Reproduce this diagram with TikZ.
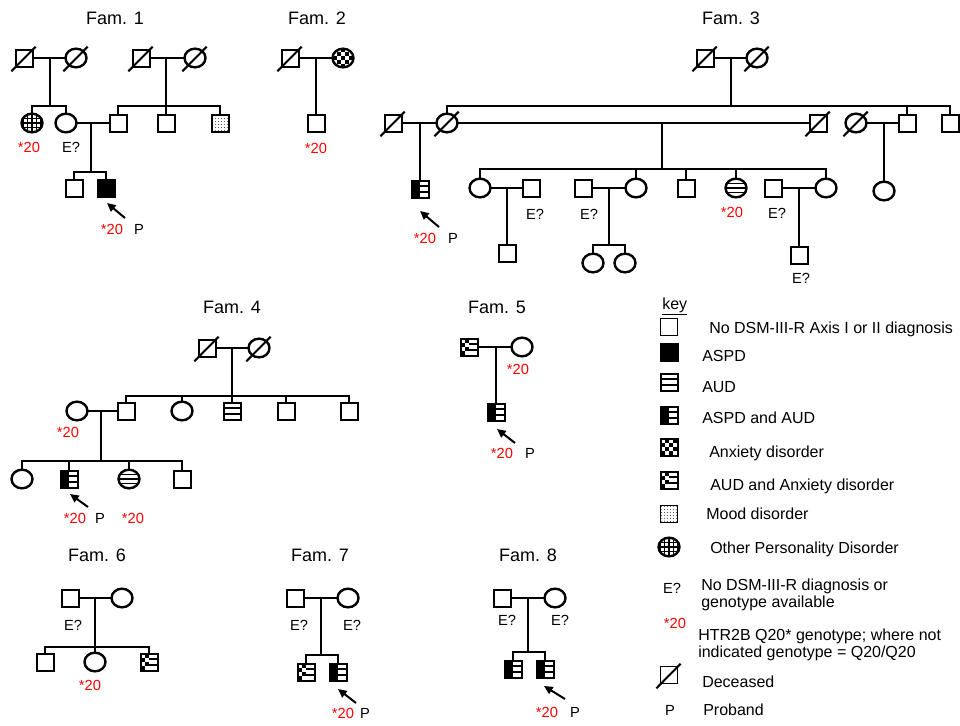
\documentclass[tikz,border=0pt]{standalone}
\usepackage{fontspec}
\setmainfont{Liberation Sans}
\usetikzlibrary{shapes.geometric,arrows.meta}
\tikzset{
 ln/.style={line width=1.7pt},
 pb/.style={draw, line width=1.5pt, inner sep=0pt, outer sep=0pt, fill=white},
 sq/.style={pb, rectangle, minimum width=12.75pt, minimum height=12.75pt},
 ci/.style={pb, line width=1.8pt, ellipse, minimum width=15.75pt, minimum height=14pt},
 lab/.style={font=\fontsize{11}{13}\selectfont, inner sep=0pt},
 rlab/.style={lab, text=red},
 ttl/.style={font=\fontsize{13.5}{16}\selectfont, inner sep=0pt},
 ktx/.style={font=\fontsize{12}{14}\selectfont, inner sep=0pt, anchor=base west},
 arr/.style={line width=1.5pt, -{Triangle[length=6.5pt,width=6pt]}},
 aspd/.style={fill=black},
 aud/.style={path picture={\coordinate (pp) at (path picture bounding box.center);
   \foreach \yy in {-2.2,2.2} \draw[black,line width=1.3pt] ([shift={(-9pt,\yy pt)}]pp) -- ++(18pt,0);}},
 audci/.style={path picture={\coordinate (pp) at (path picture bounding box.center);
   \foreach \yy in {-3.3,0,3.3} \draw[black,line width=1.3pt] ([shift={(-10pt,\yy pt)}]pp) -- ++(20pt,0);}},
 aspdaud/.style={path picture={\coordinate (pp) at (path picture bounding box.center);
   \fill[black] ([shift={(-9pt,-9pt)}]pp) rectangle ([shift={(0pt,9pt)}]pp);
   \foreach \yy in {-2.2,2.2} \draw[black,line width=1.3pt] ([shift={(0pt,\yy pt)}]pp) -- ++(9pt,0);}},
 anx/.style={path picture={\coordinate (pp) at (path picture bounding box.center);
   \foreach \i/\j in {0/0,0/2,1/1,1/3,2/0,2/2,3/1,3/3}
     \fill[black] ([shift={(-6.4pt+\i*3.2pt,-6.4pt+\j*3.2pt)}]pp) rectangle ++(3.2pt,3.2pt);}},
 anxci/.style={path picture={\coordinate (pp) at (path picture bounding box.center);
   \foreach \i/\j in {0/0,0/2,0/4,1/1,1/3,2/0,2/2,2/4,3/1,3/3,4/0,4/2,4/4}
     \fill[black] ([shift={(-8pt+\i*3.2pt,-8pt+\j*3.2pt)}]pp) rectangle ++(3.2pt,3.2pt);}},
 audanx/.style={path picture={\coordinate (pp) at (path picture bounding box.center);
   \foreach \i/\j in {0/0,0/2,1/1,1/3}
     \fill[black] ([shift={(-6.4pt+\i*3.2pt,-6.4pt+\j*3.2pt)}]pp) rectangle ++(3.2pt,3.2pt);
   \foreach \yy in {-2.2,2.2} \draw[black,line width=1.3pt] ([shift={(0pt,\yy pt)}]pp) -- ++(9pt,0);}},
 mood/.style={path picture={\coordinate (pp) at (path picture bounding box.center);
   \foreach \i in {0,...,5} \foreach \j in {0,...,5}
     \fill[black!75] ([shift={(-5.5pt+\i*2.2pt,-5.5pt+\j*2.2pt)}]pp) circle (0.38pt);}},
 opd/.style={path picture={\coordinate (pp) at (path picture bounding box.center);
   \foreach \v in {-6.6,-3.3,0,3.3,6.6} {\draw[black,line width=0.9pt] ([shift={(\v pt,-9pt)}]pp) -- ++(0,18pt);
     \draw[black,line width=0.9pt] ([shift={(-9pt,\v pt)}]pp) -- ++(18pt,0);}}},
}
\newcommand\mkdead[1]{\draw[line width=1.5pt] ([shift={(-9.5pt,-10pt)}]#1.center) -- ([shift={(8.75pt,8.5pt)}]#1.center);}
\begin{document}
\begin{tikzpicture}[x=0.75pt,y=-0.75pt]
\fill[white] (0,0) rectangle (960,725);
\useasboundingbox (0,0) rectangle (960,725);

% ---------------- Fam. 1
\node[ttl] (t1) at (115,18) {Fam. 1};
\node[sq] (f1a) at (24,58) {}; \mkdead{f1a}
\node[ci] (f1b) at (76,58) {}; \mkdead{f1b}
\node[sq] (f1c) at (141,58) {}; \mkdead{f1c}
\node[ci] (f1d) at (195,58) {}; \mkdead{f1d}
\node[ci,opd] (f1e) at (32,123) {};
\node[ci] (f1f) at (66,123) {};
\node[sq] (f1g) at (118,123) {};
\node[sq] (f1h) at (166,123) {};
\node[sq,mood] (f1i) at (220,123) {};
\node[sq] (f1j) at (74,188) {};
\node[sq,aspd] (f1k) at (106,188) {};
\coordinate (f1m1) at (50,58); \coordinate (f1s1) at (50,106);
\coordinate (f1m2) at (166,58); \coordinate (f1s2) at (166,106);
\coordinate (f1m3) at (91,123); \coordinate (f1s3) at (91,172);
\draw[ln] (f1a) -- (f1b);
\draw[ln] (f1m1) -- (f1s1);
\draw[ln] (f1e.north) -- (f1e.north |- f1s1) -- (f1f.north |- f1s1) -- (f1f.north);
\draw[ln] (f1c) -- (f1d);
\draw[ln] (f1m2) -- (f1s2);
\draw[ln] (f1g.north) -- (f1g.north |- f1s2) -- (f1i.north |- f1s2) -- (f1i.north);
\draw[ln] (f1h.north |- f1s2) -- (f1h.north);
\draw[ln] (f1f) -- (f1g);
\draw[ln] (f1m3) -- (f1s3);
\draw[ln] (f1j.north) -- (f1j.north |- f1s3) -- (f1k.north |- f1s3) -- (f1k.north);
\node[rlab] (f1l1) at (29,147) {*20};
\node[lab] (f1l2) at (71,147) {E?};
\coordinate (f1p0) at (125,218); \coordinate (f1p1) at (107,203);
\draw[arr] (f1p0) -- (f1p1);
\node[rlab] (f1l3) at (112,229) {*20};
\node[lab] (f1l4) at (139,229) {P};

% ---------------- Fam. 2
\node[ttl] (t2) at (317,18) {Fam. 2};
\node[sq] (f2a) at (290,58) {}; \mkdead{f2a}
\node[ci,anxci] (f2b) at (343,58) {};
\node[sq] (f2c) at (316,123) {};
\coordinate (f2m) at (316,58);
\draw[ln] (f2a) -- (f2b);
\draw[ln] (f2m) -- (f2c);
\node[rlab] (f2l1) at (316,148) {*20};

% ---------------- Fam. 3
\node[ttl] (t3) at (731,18) {Fam. 3};
\node[sq] (f3a) at (705,58) {}; \mkdead{f3a}
\node[ci] (f3b) at (757,58) {}; \mkdead{f3b}
\coordinate (f3m1) at (731,58); \coordinate (f3s1) at (731,106);
\node[ci] (f3c) at (447,123) {}; \mkdead{f3c}
\node[sq] (f3d) at (907,123) {};
\node[sq] (f3e) at (950,123) {};
\node[sq] (f3f) at (393,123) {}; \mkdead{f3f}
\node[sq,aspdaud] (f3g) at (420,189) {};
\node[sq] (f3h) at (818,123) {}; \mkdead{f3h}
\node[ci] (f3i) at (856,123) {}; \mkdead{f3i}
\node[ci] (f3j) at (884,191) {};
\draw[ln] (f3a) -- (f3b);
\draw[ln] (f3m1) -- (f3s1);
\draw[ln] (f3c.north) -- (f3c.north |- f3s1) -- (f3e.north |- f3s1) -- (f3e.north);
\draw[ln] (f3d.north |- f3s1) -- (f3d.north);
\draw[ln] (f3f) -- (f3c);
\coordinate (f3m2) at (420,123);
\draw[ln] (f3m2) -- (f3g);
\draw[ln] (f3c) -- (f3h);
\coordinate (f3m3) at (662,123); \coordinate (f3s3) at (662,169);
\draw[ln] (f3m3) -- (f3s3);
\draw[ln] (f3i) -- (f3d);
\coordinate (f3m4) at (884,123);
\draw[ln] (f3m4) -- (f3j);
\node[ci] (f3k) at (480,188) {};
\node[ci] (f3l) at (636,188) {};
\node[sq] (f3n) at (686,188) {};
\node[ci,audci] (f3o) at (736,188) {};
\node[ci] (f3q) at (826,188) {};
\draw[ln] (f3k.north) -- (f3k.north |- f3s3) -- (f3q.north |- f3s3) -- (f3q.north);
\foreach \c in {f3l,f3n,f3o} \draw[ln] (\c.north |- f3s3) -- (\c.north);
\node[sq] (f3p) at (531,188) {};
\draw[ln] (f3k) -- (f3p);
\coordinate (f3m5) at (507,188);
\node[sq] (f3r) at (507,253) {};
\draw[ln] (f3m5) -- (f3r);
\node[sq] (f3t) at (583,188) {};
\draw[ln] (f3t) -- (f3l);
\coordinate (f3m6) at (609,188); \coordinate (f3s6) at (609,245);
\node[ci] (f3u) at (593,263) {};
\node[ci] (f3v) at (625,263) {};
\draw[ln] (f3m6) -- (f3s6);
\draw[ln] (f3u.north) -- (f3u.north |- f3s6) -- (f3v.north |- f3s6) -- (f3v.north);
\node[sq] (f3w) at (773,188) {};
\draw[ln] (f3w) -- (f3q);
\coordinate (f3m7) at (799,188);
\node[sq] (f3x) at (799,255) {};
\draw[ln] (f3m7) -- (f3x);
\node[lab] (f3l1) at (535,214) {E?};
\node[lab] (f3l2) at (589,214) {E?};
\node[rlab] (f3l3) at (732,212) {*20};
\node[lab] (f3l4) at (777,213) {E?};
\node[lab] (f3l5) at (801,278) {E?};
\coordinate (f3p0) at (439,227); \coordinate (f3p1) at (420,211);
\draw[arr] (f3p0) -- (f3p1);
\node[rlab] (f3l6) at (425,238) {*20};
\node[lab] (f3l7) at (453,238) {P};

% ---------------- Fam. 4
\node[ttl] (t4) at (232,307) {Fam. 4};
\node[sq] (f4a) at (207,348) {}; \mkdead{f4a}
\node[ci] (f4b) at (259,348) {}; \mkdead{f4b}
\coordinate (f4m1) at (232,348); \coordinate (f4s1) at (232,396);
\node[sq] (f4c) at (126,411) {};
\node[ci] (f4d) at (182,411) {};
\node[sq,aud] (f4e) at (232,411) {};
\node[sq] (f4f) at (286,411) {};
\node[sq] (f4g) at (349,411) {};
\node[ci] (f4h) at (77,411) {};
\draw[ln] (f4a) -- (f4b);
\draw[ln] (f4m1) -- (f4s1);
\draw[ln] (f4c.north) -- (f4c.north |- f4s1) -- (f4g.north |- f4s1) -- (f4g.north);
\foreach \c in {f4d,f4e,f4f} \draw[ln] (\c.north |- f4s1) -- (\c.north);
\draw[ln] (f4h) -- (f4c);
\coordinate (f4m2) at (101,411); \coordinate (f4s2) at (101,461);
\draw[ln] (f4m2) -- (f4s2);
\node[ci] (f4i) at (22,479) {};
\node[sq,aspdaud] (f4j) at (69,479) {};
\node[ci,audci] (f4k) at (129,479) {};
\node[sq] (f4l) at (182,479) {};
\draw[ln] (f4i.north) -- (f4i.north |- f4s2) -- (f4l.north |- f4s2) -- (f4l.north);
\foreach \c in {f4j,f4k} \draw[ln] (\c.north |- f4s2) -- (\c.north);
\node[rlab] (f4l1) at (68,432) {*20};
\coordinate (f4p0) at (88,507); \coordinate (f4p1) at (70,494);
\draw[arr] (f4p0) -- (f4p1);
\node[rlab] (f4l2) at (75,518) {*20};
\node[lab] (f4l3) at (100,518) {P};
\node[rlab] (f4l4) at (133,518) {*20};

% ---------------- Fam. 5
\node[ttl] (t5) at (497,307) {Fam. 5};
\node[sq,audanx] (f5a) at (469,347) {};
\node[ci] (f5b) at (522,347) {};
\coordinate (f5m) at (496,347);
\node[sq,aspdaud] (f5c) at (496,412) {};
\draw[ln] (f5a) -- (f5b);
\draw[ln] (f5m) -- (f5c);
\node[rlab] (f5l1) at (518,369) {*20};
\coordinate (f5p0) at (515,443); \coordinate (f5p1) at (497,429);
\draw[arr] (f5p0) -- (f5p1);
\node[rlab] (f5l2) at (502,453) {*20};
\node[lab] (f5l3) at (530,453) {P};

% ---------------- Key
\node[ktx] (k0) at (662,309) {\underline{key}};
\node[sq,line width=1.1pt] (k1) at (669,327) {};
\node[sq,aspd] (k2) at (669,352) {};
\node[sq,aud] (k3) at (669,382) {};
\node[sq,aspdaud] (k4) at (669,415) {};
\node[sq,anx] (k5) at (669,447) {};
\node[sq,audanx] (k6) at (669,480) {};
\node[sq,mood,line width=1.1pt] (k7) at (669,514) {};
\node[ci,opd] (k8) at (669,547) {};
\node[ktx] (kt1) at (709,333) {No DSM-III-R Axis I or II diagnosis};
\node[ktx] (kt2) at (702,361) {ASPD};
\node[ktx] (kt3) at (702,392) {AUD};
\node[ktx] (kt4) at (702,423) {ASPD and AUD};
\node[ktx] (kt5) at (709,457) {Anxiety disorder};
\node[ktx] (kt6) at (710,490) {AUD and Anxiety disorder};
\node[ktx] (kt7) at (706,519) {Mood disorder};
\node[ktx] (kt8) at (710,553) {Other Personality Disorder};
\node[lab] (k9) at (672,588) {E?};
\node[ktx] (kt9) at (701,590) {No DSM-III-R diagnosis or};
\node[ktx] (kt10) at (701,607) {genotype available};
\node[rlab] (k10) at (675,623) {*20};
\node[ktx] (kt11) at (698,640) {HTR2B Q20* genotype; where not};
\node[ktx] (kt12) at (698,657) {indicated genotype = Q20/Q20};
\node[sq,line width=1.1pt] (k11) at (669,675) {}; \mkdead{k11}
\node[ktx] (kt13) at (702,687) {Deceased};
\node[lab] (k12) at (670,710) {P};
\node[ktx] (kt14) at (703,715) {Proband};

% ---------------- Fam. 6
\node[ttl] (t6) at (97,555) {Fam. 6};
\node[sq] (f6a) at (70,598) {};
\node[ci] (f6b) at (122,598) {};
\coordinate (f6m) at (95,598); \coordinate (f6s) at (95,647);
\node[sq] (f6c) at (45,662) {};
\node[ci] (f6d) at (95,662) {};
\node[sq,audanx] (f6e) at (149,662) {};
\draw[ln] (f6a) -- (f6b);
\draw[ln] (f6m) -- (f6s);
\draw[ln] (f6c.north) -- (f6c.north |- f6s) -- (f6e.north |- f6s) -- (f6e.north);
\draw[ln] (f6d.north |- f6s) -- (f6d.north);
\node[lab] (f6l1) at (73,625) {E?};
\node[rlab] (f6l2) at (90,685) {*20};

% ---------------- Fam. 7
\node[ttl] (t7) at (320,555) {Fam. 7};
\node[sq] (f7a) at (295,598) {};
\node[ci] (f7b) at (348,598) {};
\coordinate (f7m) at (321,598); \coordinate (f7s) at (321,655);
\node[sq,audanx] (f7c) at (306,672) {};
\node[sq,aspdaud] (f7d) at (338,672) {};
\draw[ln] (f7a) -- (f7b);
\draw[ln] (f7m) -- (f7s);
\draw[ln] (f7c.north) -- (f7c.north |- f7s) -- (f7d.north |- f7s) -- (f7d.north);
\node[lab] (f7l1) at (299,625) {E?};
\node[lab] (f7l2) at (352,625) {E?};
\coordinate (f7p0) at (356,703); \coordinate (f7p1) at (338,689);
\draw[arr] (f7p0) -- (f7p1);
\node[rlab] (f7l3) at (343,713) {*20};
\node[lab] (f7l4) at (365,713) {P};

% ---------------- Fam. 8
\node[ttl] (t8) at (528,555) {Fam. 8};
\node[sq] (f8a) at (502,598) {};
\node[ci] (f8b) at (555,598) {};
\coordinate (f8m) at (528,598); \coordinate (f8s) at (528,652);
\node[sq,aspdaud] (f8c) at (513,669) {};
\node[sq,aspdaud] (f8d) at (545,669) {};
\draw[ln] (f8a) -- (f8b);
\draw[ln] (f8m) -- (f8s);
\draw[ln] (f8c.north) -- (f8c.north |- f8s) -- (f8d.north |- f8s) -- (f8d.north);
\node[lab] (f8l1) at (507,620) {E?};
\node[lab] (f8l2) at (560,620) {E?};
\coordinate (f8p0) at (565,699); \coordinate (f8p1) at (544,686);
\draw[arr] (f8p0) -- (f8p1);
\node[rlab] (f8l3) at (547,712) {*20};
\node[lab] (f8l4) at (575,712) {P};
\end{tikzpicture}
\end{document}
